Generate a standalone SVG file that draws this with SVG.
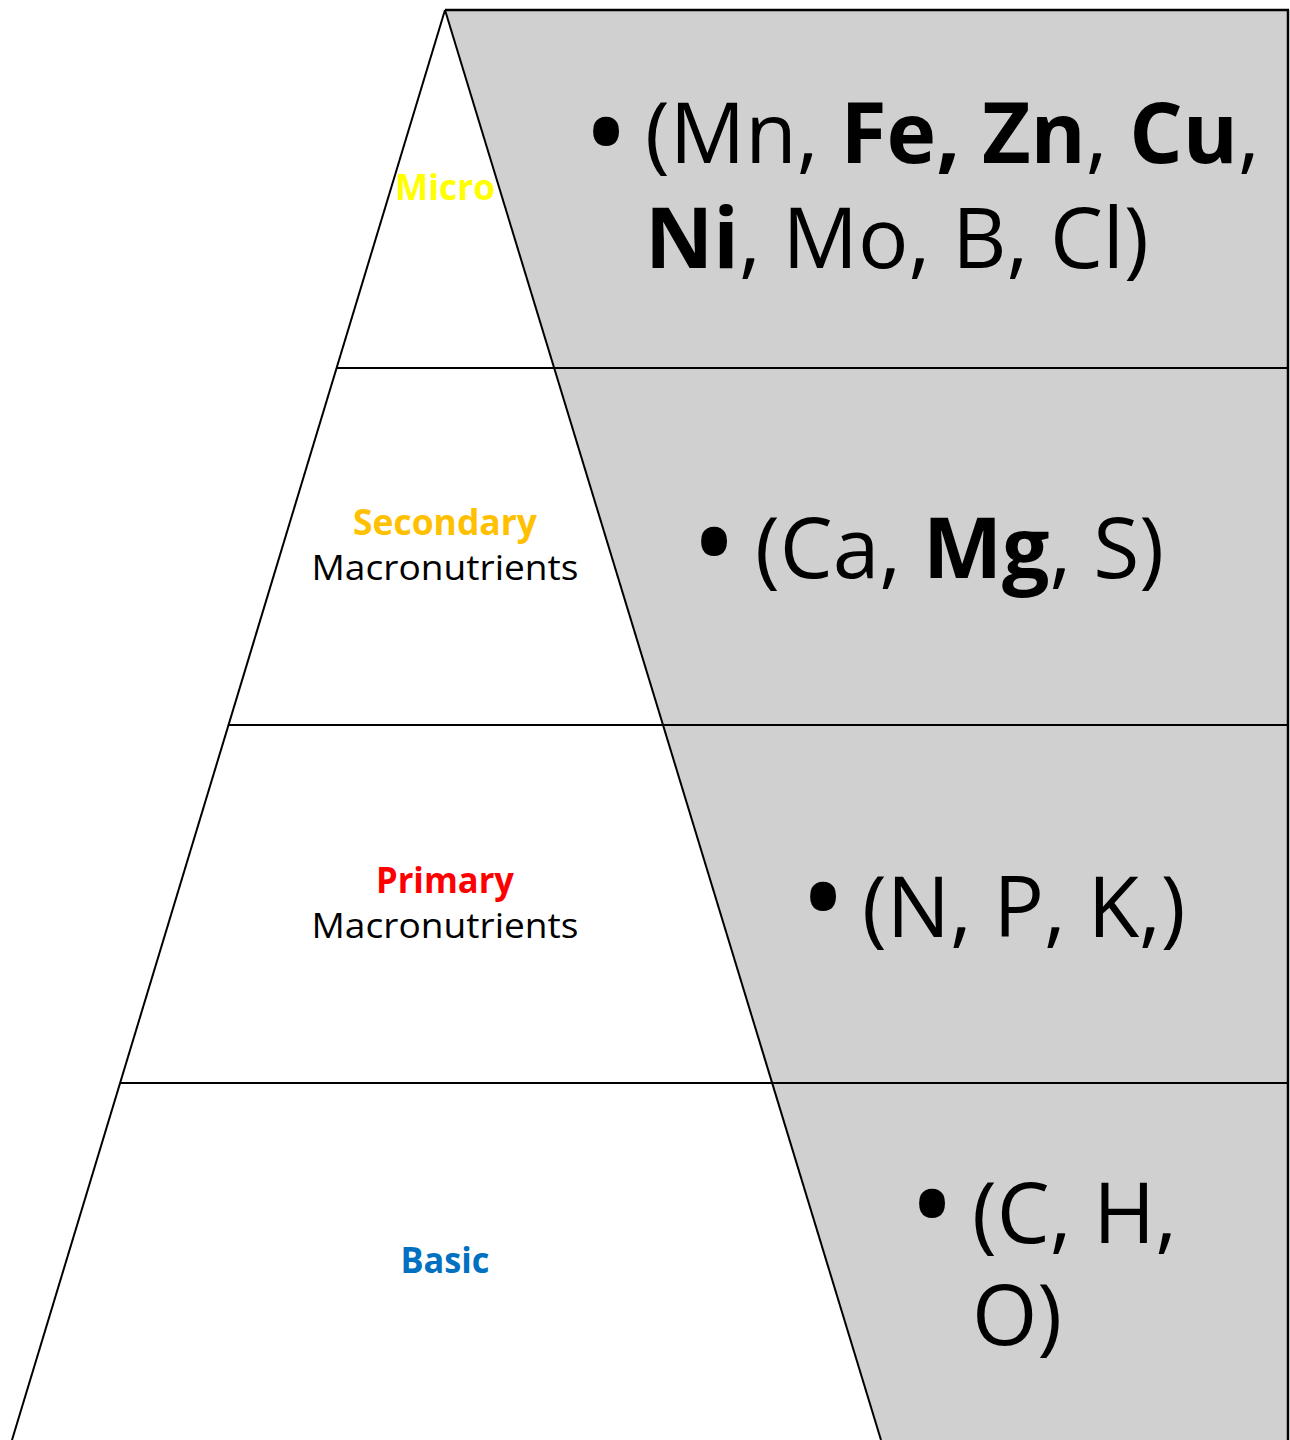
<svg xmlns="http://www.w3.org/2000/svg" width="1290" height="1440" viewBox="0 0 1290 1440">
<style>
.ln{stroke:#000;stroke-width:2;fill:none}
.lbl{font-family:"Open Sans","Noto Sans",sans-serif;font-size:35px;text-anchor:middle}
.b{font-weight:bold}
.big{font-family:"Open Sans","Noto Sans",sans-serif;font-size:84px;fill:#000}
.bul{font-family:"Open Sans","Noto Sans",sans-serif;font-size:124px;fill:#000;text-anchor:middle}
</style>
<rect width="1290" height="1440" fill="#fff"/>
<g id="shapes">
<polygon points="445,10 1288,10 1288,1440 881,1440" fill="#d0d0d0"/>
<line class="ln" x1="445" y1="10" x2="1289" y2="10" style="stroke-width:2.5"/>
<line class="ln" x1="1288" y1="10" x2="1288" y2="1440" style="stroke-width:2.5"/>
<line class="ln" x1="445" y1="10" x2="12" y2="1440"/>
<line class="ln" x1="445" y1="10" x2="881" y2="1440"/>
<line class="ln" x1="337" y1="368" x2="1288" y2="368"/>
<line class="ln" x1="228" y1="725" x2="1288" y2="725"/>
<line class="ln" x1="120" y1="1083" x2="1288" y2="1083"/>
</g>
<g id="micro">
<text class="lbl b" x="445" y="200" fill="#ffff00" textLength="100" lengthAdjust="spacingAndGlyphs">Micro</text>
<text class="bul" x="606" y="177">•</text>
<text class="big" x="645" y="163">(Mn, <tspan class="b">Fe, Zn</tspan>, <tspan class="b">Cu</tspan>,</text>
<text class="big" x="645" y="268"><tspan class="b">Ni</tspan>, Mo, B, Cl)</text>
</g>
<g id="secondary">
<text class="lbl b" x="445" y="535" fill="#ffc000" textLength="184" lengthAdjust="spacingAndGlyphs">Secondary</text>
<text class="lbl" x="445" y="580" fill="#000" textLength="267" lengthAdjust="spacingAndGlyphs">Macronutrients</text>
<text class="bul" x="714" y="587">•</text>
<text class="big" x="755" y="578">(Ca, <tspan class="b">Mg</tspan>, S)</text>
</g>
<g id="primary">
<text class="lbl b" x="445" y="893" fill="#ff0000" textLength="138" lengthAdjust="spacingAndGlyphs">Primary</text>
<text class="lbl" x="445" y="938" fill="#000" textLength="267" lengthAdjust="spacingAndGlyphs">Macronutrients</text>
<text class="bul" x="823" y="942">•</text>
<text class="big" x="862" y="937">(N, P, K,)</text>
</g>
<g id="basic">
<text class="lbl b" x="445" y="1273" fill="#0070c0" textLength="89" lengthAdjust="spacingAndGlyphs">Basic</text>
<text class="bul" x="932" y="1249">•</text>
<text class="big" x="972" y="1243">(C, H,</text>
<text class="big" x="972" y="1345">O)</text>
</g>
</svg>
